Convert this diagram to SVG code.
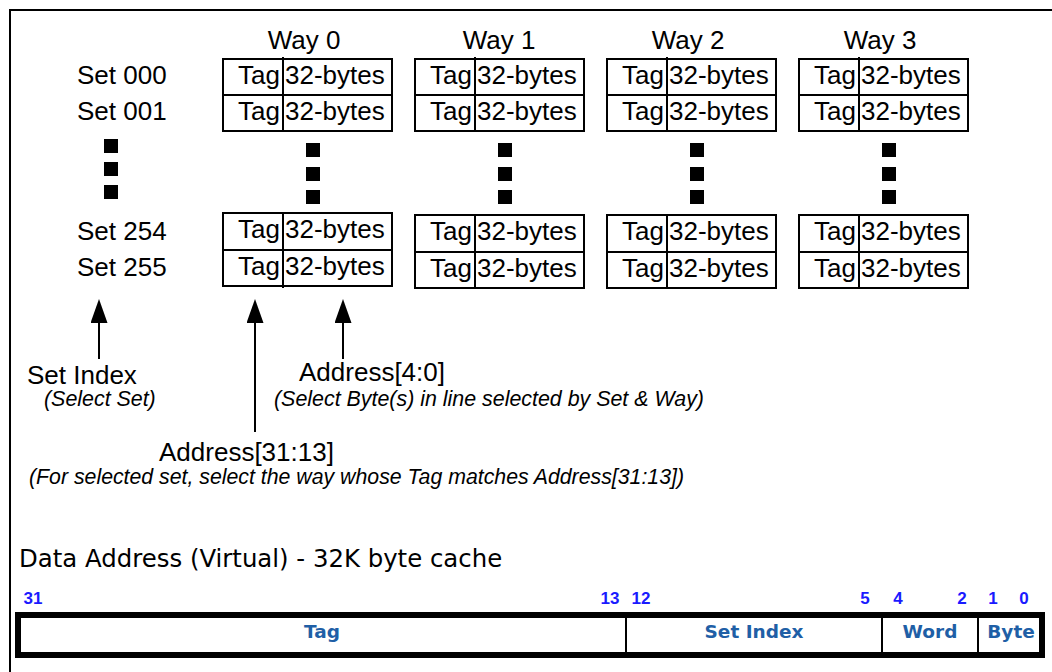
<svg xmlns="http://www.w3.org/2000/svg" width="1052" height="672" viewBox="0 0 1052 672">
  <defs>
    <style>
      .t{font-family:"Liberation Sans",Arial,Helvetica,sans-serif;font-size:26px;fill:#000}
      .m{text-anchor:middle}
      .e{text-anchor:end}
      .i{font-style:italic;font-size:21.4px}
      .box{fill:#fff;stroke:#000;stroke-width:2}
      .rule{stroke:#000;stroke-width:2;fill:none}
      .dot{fill:#000}
      .arrow{stroke:#000;stroke-width:2;fill:none;marker-end:url(#head)}
      .frame{stroke:#000;stroke-width:2;fill:none}
      .title{font-family:"DejaVu Sans",Verdana,sans-serif;font-size:24.4px;fill:#000}
      .bit{font-family:"Liberation Sans",Arial,sans-serif;font-weight:bold;font-size:17px;fill:#1a1aff;text-anchor:middle}
      .field{font-family:"DejaVu Sans",Verdana,sans-serif;font-weight:bold;font-size:18.5px;fill:#1f5fa6;text-anchor:middle}
      .bar{fill:#fff;stroke:#000;stroke-width:6}
    </style>
    <marker id="head" viewBox="0 0 24 17" refX="0" refY="8.5" markerWidth="24" markerHeight="17" markerUnits="userSpaceOnUse" orient="auto">
      <path d="M0,0 L24,8.5 L0,17 Z" fill="#000"/>
    </marker>
  </defs>

  <rect width="1052" height="672" fill="#fff"/>
  <!-- page frame (left and top edges) -->
  <path class="frame" d="M10,672 V10 H1052"/>

  <!-- set labels on the left -->
  <g id="set-labels">
    <text class="t" x="77" y="84">Set 000</text>
    <text class="t" x="77" y="120">Set 001</text>
    <rect class="dot" x="104" y="139" width="14" height="14"/>
    <rect class="dot" x="104" y="162" width="14" height="14"/>
    <rect class="dot" x="104" y="185" width="14" height="14"/>
    <text class="t" x="77" y="240">Set 254</text>
    <text class="t" x="77" y="276">Set 255</text>
  </g>

  <!-- Way 0 -->
  <g id="way-0">
    <text class="t m" x="304" y="49">Way 0</text>
    <rect class="box" x="223" y="59" width="169" height="72"/>
    <path class="rule" d="M223,95 H392 M283,57 V131"/>
    <text class="t e" x="280" y="84">Tag</text><text class="t" x="285" y="84">32-bytes</text>
    <text class="t e" x="280" y="120">Tag</text><text class="t" x="285" y="120">32-bytes</text>
    <rect class="dot" x="306" y="143" width="14" height="14"/>
    <rect class="dot" x="306" y="167" width="14" height="14"/>
    <rect class="dot" x="306" y="190" width="14" height="14"/>
    <rect class="box" x="223" y="213" width="169" height="73"/>
    <path class="rule" d="M223,250 H392 M283,213 V288"/>
    <text class="t e" x="280" y="238">Tag</text><text class="t" x="285" y="238">32-bytes</text>
    <text class="t e" x="280" y="275">Tag</text><text class="t" x="285" y="275">32-bytes</text>
  </g>

  <!-- Way 1 -->
  <g id="way-1">
    <text class="t m" x="499" y="49">Way 1</text>
    <rect class="box" x="415" y="59" width="169" height="72"/>
    <path class="rule" d="M415,95 H584 M475,57 V131"/>
    <text class="t e" x="472" y="84">Tag</text><text class="t" x="477" y="84">32-bytes</text>
    <text class="t e" x="472" y="120">Tag</text><text class="t" x="477" y="120">32-bytes</text>
    <rect class="dot" x="498" y="143" width="14" height="14"/>
    <rect class="dot" x="498" y="167" width="14" height="14"/>
    <rect class="dot" x="498" y="190" width="14" height="14"/>
    <rect class="box" x="415" y="215" width="169" height="73"/>
    <path class="rule" d="M415,252 H584 M475,215 V288"/>
    <text class="t e" x="472" y="240">Tag</text><text class="t" x="477" y="240">32-bytes</text>
    <text class="t e" x="472" y="277">Tag</text><text class="t" x="477" y="277">32-bytes</text>
  </g>

  <!-- Way 2 -->
  <g id="way-2">
    <text class="t m" x="688" y="49">Way 2</text>
    <rect class="box" x="607" y="59" width="169" height="72"/>
    <path class="rule" d="M607,95 H776 M667,57 V131"/>
    <text class="t e" x="664" y="84">Tag</text><text class="t" x="669" y="84">32-bytes</text>
    <text class="t e" x="664" y="120">Tag</text><text class="t" x="669" y="120">32-bytes</text>
    <rect class="dot" x="690" y="143" width="14" height="14"/>
    <rect class="dot" x="690" y="167" width="14" height="14"/>
    <rect class="dot" x="690" y="190" width="14" height="14"/>
    <rect class="box" x="607" y="215" width="169" height="73"/>
    <path class="rule" d="M607,252 H776 M667,215 V288"/>
    <text class="t e" x="664" y="240">Tag</text><text class="t" x="669" y="240">32-bytes</text>
    <text class="t e" x="664" y="277">Tag</text><text class="t" x="669" y="277">32-bytes</text>
  </g>

  <!-- Way 3 -->
  <g id="way-3">
    <text class="t m" x="880" y="49">Way 3</text>
    <rect class="box" x="799" y="59" width="169" height="72"/>
    <path class="rule" d="M799,95 H968 M859,57 V131"/>
    <text class="t e" x="856" y="84">Tag</text><text class="t" x="861" y="84">32-bytes</text>
    <text class="t e" x="856" y="120">Tag</text><text class="t" x="861" y="120">32-bytes</text>
    <rect class="dot" x="882" y="143" width="14" height="14"/>
    <rect class="dot" x="882" y="167" width="14" height="14"/>
    <rect class="dot" x="882" y="190" width="14" height="14"/>
    <rect class="box" x="799" y="215" width="169" height="73"/>
    <path class="rule" d="M799,252 H968 M859,215 V288"/>
    <text class="t e" x="856" y="240">Tag</text><text class="t" x="861" y="240">32-bytes</text>
    <text class="t e" x="856" y="277">Tag</text><text class="t" x="861" y="277">32-bytes</text>
  </g>

  <!-- arrows from the address fields up to the cache -->
  <g id="connectors">
    <line class="arrow" x1="99" y1="359" x2="99" y2="323"/>
    <line class="arrow" x1="255" y1="432" x2="255" y2="323"/>
    <line class="arrow" x1="343" y1="359" x2="343" y2="323"/>
  </g>

  <!-- field descriptions -->
  <g id="set-index-label">
    <text class="t" x="27" y="384">Set Index</text>
    <text class="t i" x="44" y="406">(Select Set)</text>
  </g>
  <g id="offset-label">
    <text class="t" x="299" y="381">Address[4:0]</text>
    <text class="t i" x="274" y="406">(Select Byte(s) in line selected by Set &amp; Way)</text>
  </g>
  <g id="tag-label">
    <text class="t" x="159" y="461">Address[31:13]</text>
    <text class="t i" x="29" y="484" textLength="655" lengthAdjust="spacingAndGlyphs">(For selected set, select the way whose Tag matches Address[31:13])</text>
  </g>

  <!-- address layout bar -->
  <g id="address-bar">
    <text class="title" x="19" y="567">Data Address (Virtual) - 32K byte cache</text>
    <text class="bit" x="33" y="604">31</text>
    <text class="bit" x="610" y="604">13</text>
    <text class="bit" x="641" y="604">12</text>
    <text class="bit" x="865" y="604">5</text>
    <text class="bit" x="898" y="604">4</text>
    <text class="bit" x="962" y="604">2</text>
    <text class="bit" x="993" y="604">1</text>
    <text class="bit" x="1024" y="604">0</text>
    <rect class="bar" x="18" y="615" width="1024" height="40"/>
    <path class="rule" d="M626,618 V652 M882,618 V652 M978,618 V652"/>
    <text class="field" x="322" y="638">Tag</text>
    <text class="field" x="754" y="638">Set Index</text>
    <text class="field" x="930" y="638">Word</text>
    <text class="field" x="1011" y="638">Byte</text>
  </g>
</svg>
